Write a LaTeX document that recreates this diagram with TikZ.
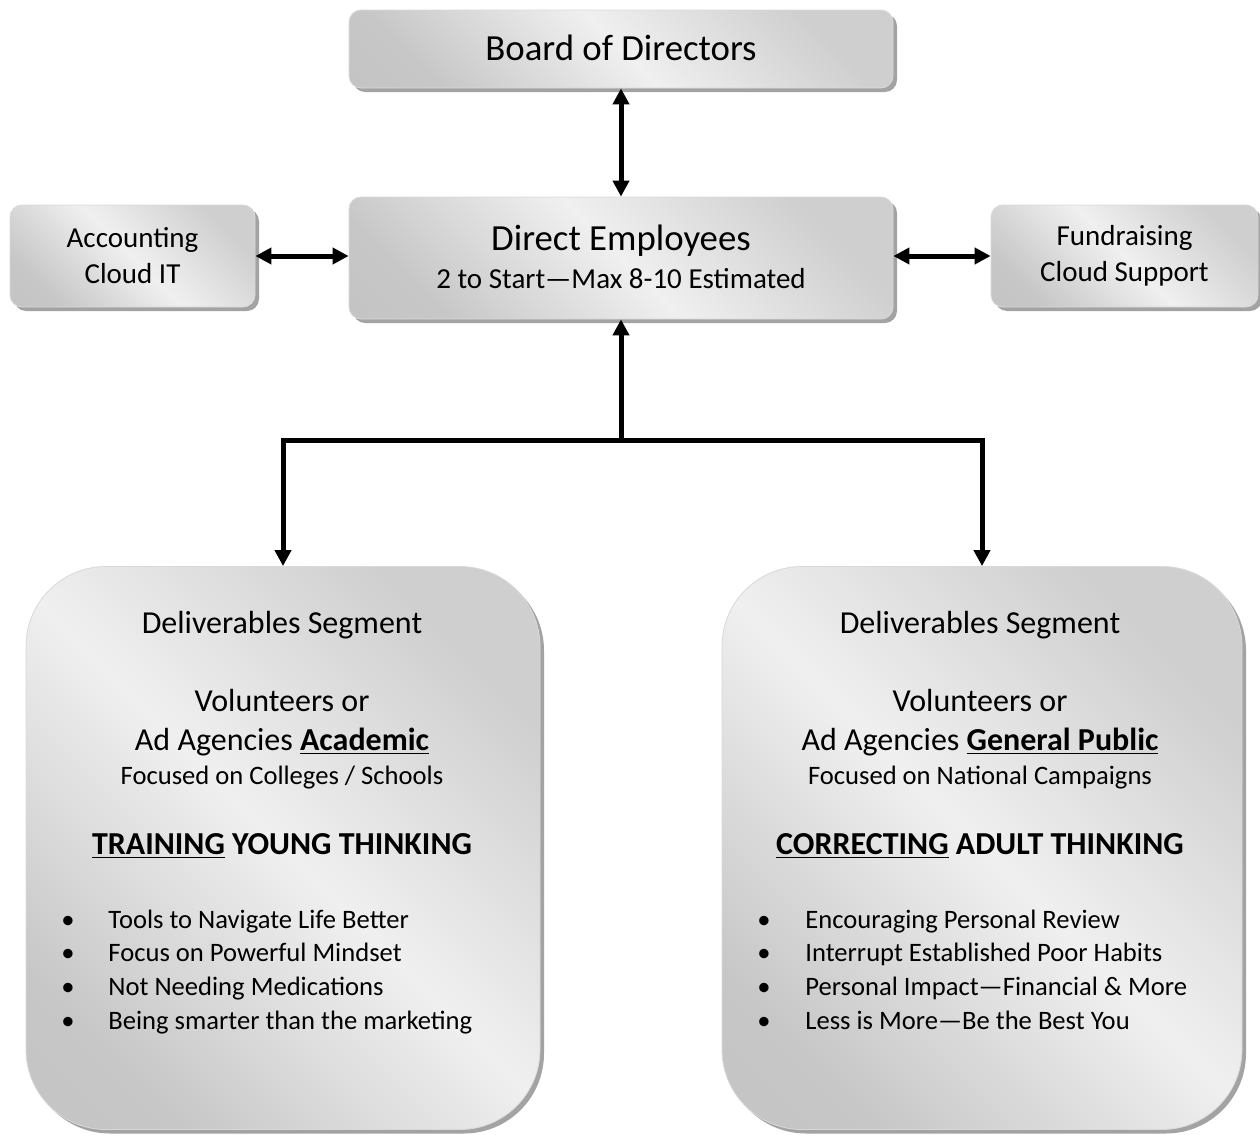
\documentclass[tikz,border=0pt]{standalone}
\usepackage{fontspec}
\setmainfont{Carlito}
\usetikzlibrary{arrows.meta,shadows}

\pgfdeclarehorizontalshading{kasten}{100bp}{color(0bp)=(black!25); color(25bp)=(black!22); color(50bp)=(black!6); color(75bp)=(black!19); color(100bp)=(black!19)}

\begin{document}
\begin{tikzpicture}
		[x=0.5pt, y=-0.5pt,
		every node/.style={align=center, inner sep=0pt},
		kasten/.style={shading=kasten, shading angle=45, draw=black!15, line width=0.4pt,
			rounded corners=6pt,
			drop shadow={shadow xshift=2pt, shadow yshift=-2pt, fill=black!36, opacity=1}},
		gross/.style={kasten, rounded corners=40pt, minimum width=257pt, minimum height=281.5pt},
		titel/.style={font=\fontsize{18.4}{20}\selectfont},
		klein/.style={font=\fontsize{14.5}{18}\selectfont},
		zeile/.style={anchor=base, font=\fontsize{16}{19}\selectfont},
		notiz/.style={anchor=base, font=\fontsize{13.3}{16}\selectfont},
		punkt/.style={anchor=base west, font=\fontsize{13.3}{16}\selectfont},
		pfeil/.style={line width=2.5pt, -{Triangle[length=8pt, width=8pt]}},
		doppelpfeil/.style={line width=2.5pt, {Triangle[length=8pt, width=8pt]}-{Triangle[length=8pt, width=8pt]}},
		]

		\useasboundingbox (0,0) rectangle (1260,1135);

		% obere Reihe
		\node[kasten, titel, minimum width=272pt, minimum height=39pt] (board) at (621,49) {\raisebox{1.5pt}{Board of Directors}};
		\node[kasten, minimum width=272pt, minimum height=61pt] (direct) at (621,258)
			{\raisebox{1.5pt}{\fontsize{18.4}{20}\selectfont Direct Employees}\\[5pt]
			 \raisebox{1.5pt}{\fontsize{14.5}{18}\selectfont 2 to Start---Max 8-10 Estimated}};
		\node[kasten, klein, minimum width=122.5pt, minimum height=51pt] (acct) at (132.5,256)
			{\raisebox{-1.2pt}{Accounting}\\\raisebox{-1.2pt}{Cloud IT}};
		\node[kasten, klein, minimum width=133.5pt, minimum height=51pt] (fund) at (1124.5,256)
			{\raisebox{-1.4pt}{Fundraising}\\\raisebox{-1.4pt}{Cloud Support}};

		% untere Kaesten
		\node[gross] (acad) at (283,848) {};
		\node[gross, minimum width=260pt] (publ) at (982,848) {};

		\coordinate (knoten) at (621,440);

		\draw[doppelpfeil] (board) -- (direct);
		\draw[doppelpfeil] (acct.east) -- (acct.east -| direct.west);
		\draw[doppelpfeil] (fund.west) -- (fund.west -| direct.east);
		\draw[pfeil] (knoten) -- (direct);
		\draw[pfeil] (knoten) -| (acad);
		\draw[pfeil] (knoten) -| (publ);

		% Text links
		\node[zeile] (segL) at (282,633) {Deliverables Segment};
		\node[zeile] (volL) at (282,711) {Volunteers or};
		\node[zeile] (agL) at (282,750) {Ad Agencies \textbf{\underline{Academic}}};
		\node[notiz] (focL) at (282,784) {Focused on Colleges / Schools};
		\node[zeile] (trainL) at (282,854) {\textbf{\underline{TRAINING} YOUNG THINKING}};
		\foreach \t [count=\i] in {Tools to Navigate Life Better, Focus on Powerful Mindset,
			Not Needing Medications, Being smarter than the marketing}
			\node[punkt] (itemL\i) at (61,928+33.7*\i-33.7) {\makebox[23.5pt][l]{\textbullet}\t};

		% Text rechts
		\node[zeile] (segR) at (980,633) {Deliverables Segment};
		\node[zeile] (volR) at (980,711) {Volunteers or};
		\node[zeile] (agR) at (980,750) {Ad Agencies \textbf{\underline{General Public}}};
		\node[notiz] (focR) at (980,784) {Focused on National Campaigns};
		\node[zeile] (trainR) at (980,854) {\textbf{\underline{CORRECTING} ADULT THINKING}};
		\foreach \t [count=\i] in {Encouraging Personal Review, Interrupt Established Poor Habits,
			Personal Impact---Financial \& More, Less is More---Be the Best You}
			\node[punkt] (itemR\i) at (757,928+33.7*\i-33.7) {\makebox[24pt][l]{\textbullet}\t};
	\end{tikzpicture}
\end{document}
